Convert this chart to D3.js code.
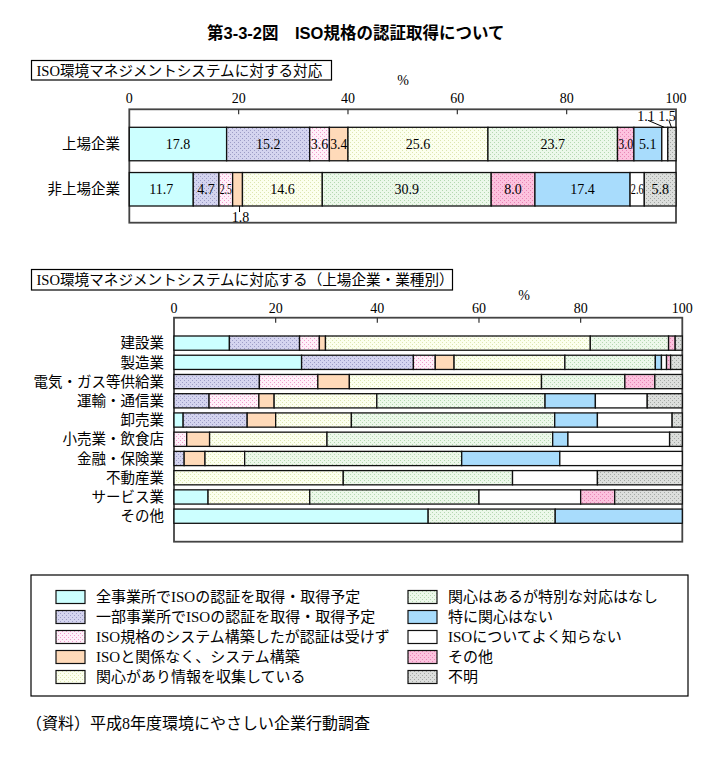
<!DOCTYPE html>
<html>
<head>
<meta charset="utf-8">
<script src="https://cdn.jsdelivr.net/npm/d3@7"></script>
<style>
  body { margin: 0; background: #fff; }
  svg { display: block; }
</style>
</head>
<body>
<svg id="chart" width="719" height="758"></svg>
<script>
// ---- data ----
var seriesNames = [
    '全事業所でISOの認証を取得・取得予定',
    '一部事業所でISOの認証を取得・取得予定',
    'ISO規格のシステム構築したが認証は受けず',
    'ISOと関係なく、システム構築',
    '関心があり情報を収集している',
    '関心はあるが特別な対応はなし',
    '特に関心はない',
    'ISOについてよく知らない',
    'その他',
    '不明'
];
// base colour, dot colour (null = flat)
var seriesFills = [
    ['#ccffff', null],
    ['#d4d4ef', '#9c9cc6'],
    ['#fff0f9', '#f09ccc'],
    ['#ffdab9', null],
    ['#fcffee', '#dde6b0'],
    ['#ecf8ea', '#b4d8b0'],
    ['#a8dcfc', null],
    ['#ffffff', null],
    ['#fcc2de', '#e886b6'],
    ['#dcdedc', '#a4a8a4']
];

// values follow the seriesNames order
var overallCats = ['上場企業', '非上場企業'];
var listedValues = [17.8, 15.2, 3.6, 3.4, 25.6, 23.7, 5.1, 1.1, 3.0, 1.5];
var unlistedValues = [11.7, 4.7, 2.5, 1.8, 14.6, 30.9, 17.4, 2.6, 8.0, 5.8];
// the upper chart stacks その他 straight after 関心はあるが…
var overallOrder = [0, 1, 2, 3, 4, 5, 8, 6, 7, 9];

var industryCats = ['建設業', '製造業', '電気・ガス等供給業', '運輸・通信業', '卸売業',
    '小売業・飲食店', '金融・保険業', '不動産業', 'サービス業', 'その他'];
var industryOrder = [0, 1, 2, 3, 4, 5, 6, 7, 8, 9];
var construction = [10.9, 13.8, 3.9, 1.2, 52.1, 15.4, 0, 0, 1.3, 1.4];
var manufacturing = [25.1, 22.0, 4.3, 3.7, 21.8, 17.8, 1.2, 1.0, 0.8, 2.3];
var utilities = [0, 16.8, 11.5, 6.2, 37.8, 16.4, 0, 0, 5.9, 5.4];
var transport = [0, 6.9, 9.8, 3.0, 20.2, 33.1, 9.9, 10.2, 0, 6.9];
var wholesale = [1.8, 12.6, 0, 5.6, 14.9, 40.0, 8.4, 14.7, 0, 2.0];
var retail = [0, 0, 2.5, 4.5, 23.1, 44.4, 3.0, 20.0, 0, 2.5];
var finance = [0, 2.0, 0, 4.1, 7.8, 42.7, 19.3, 24.1, 0, 0];
var realEstate = [0, 0, 0, 0, 33.3, 33.3, 0, 16.7, 0, 16.7];
var services = [6.7, 0, 0, 0, 20.0, 33.3, 0, 20.0, 6.7, 13.3];
var others = [50.0, 0, 0, 0, 0, 25.0, 25.0, 0, 0, 0];

var xTicks = [0, 20, 40, 60, 80, 100];

var titleText = '第3-3-2図　ISO規格の認証取得について';
var topHeading = 'ISO環境マネジメントシステムに対する対応';
var bottomHeading = 'ISO環境マネジメントシステムに対応する（上場企業・業種別）';
var sourceText = '（資料）平成8年度環境にやさしい企業行動調査';

// ---- drawing ----
var SERIF = '"Liberation Serif", "Noto Sans CJK JP", serif';
var GOTHIC = '"Liberation Sans", "Noto Sans CJK JP", sans-serif';

var svg = d3.select('#chart');
svg.append('rect').attr('width', 719).attr('height', 758).attr('fill', '#fff');

var defs = svg.append('defs');
seriesFills.forEach(function (f, i) {
    var p = defs.append('pattern')
        .attr('id', 'fill' + i)
        .attr('patternUnits', 'userSpaceOnUse')
        .attr('width', 4).attr('height', 4);
    p.append('rect').attr('width', 4).attr('height', 4).attr('fill', f[0]);
    if (f[1]) {
        p.append('rect').attr('x', 0).attr('y', 0).attr('width', 1).attr('height', 1).attr('fill', f[1]);
        p.append('rect').attr('x', 2).attr('y', 2).attr('width', 1).attr('height', 1).attr('fill', f[1]);
    }
});

svg.append('text')
    .attr('x', 207).attr('y', 39)
    .style('font-family', GOTHIC).style('font-weight', 'bold').style('font-size', '16.5px')
    .text(titleText);

function heading(x, y, w, h, txt) {
    svg.append('rect').attr('x', x).attr('y', y).attr('width', w).attr('height', h)
        .attr('fill', '#fff').attr('stroke', '#000').attr('stroke-width', 1.2);
    svg.append('text').attr('x', x + 5).attr('y', y + h / 2 + 5.5)
        .style('font-family', SERIF).style('font-size', '14.6px')
        .text(txt);
}
heading(31.5, 60.5, 300, 19.5, topHeading);
heading(31.5, 269.5, 421, 20.5, bottomHeading);

function fitText(sel, maxW) {
    sel.each(function () {
        var len = this.getComputedTextLength();
        if (len > maxW) {
            d3.select(this).attr('textLength', maxW).attr('lengthAdjust', 'spacingAndGlyphs');
        }
    });
}

function drawPanel(o) {
    var x = d3.scaleLinear().domain([0, 100]).range([o.left, o.right]);
    var y = d3.scaleBand().domain(o.cats).range([o.barTop, o.barBottom]).paddingInner(0.26);

    var table = o.cats.map(function (c, i) { return { cat: c, values: o.rows[i] }; });
    var stack = d3.stack()
        .keys(o.order)
        .value(function (d, k) { return d.values[k]; });
    var layers = stack(table);

    var g = svg.append('g');

    g.append('rect')
        .attr('x', o.left).attr('y', o.frameTop)
        .attr('width', o.right - o.left).attr('height', o.frameBottom - o.frameTop)
        .attr('fill', '#fff').attr('stroke', '#444').attr('stroke-width', 1.8);

    g.selectAll('.tick')
        .data(xTicks.slice(1, -1))
        .enter().append('line')
        .attr('x1', function (d) { return x(d); }).attr('x2', function (d) { return x(d); })
        .attr('y1', o.frameTop).attr('y2', o.frameTop + 5)
        .attr('stroke', '#333').attr('stroke-width', 1.2);

    g.selectAll('.tickLabel')
        .data(xTicks)
        .enter().append('text')
        .attr('x', function (d) { return x(d); })
        .attr('y', o.tickY)
        .attr('text-anchor', 'middle')
        .style('font-family', SERIF).style('font-size', '14px')
        .text(function (d) { return d; });

    g.append('text')
        .attr('x', o.pctX).attr('y', o.pctY)
        .attr('text-anchor', 'middle')
        .style('font-family', SERIF).style('font-size', '14px')
        .text('%');

    g.selectAll('.cat')
        .data(o.cats)
        .enter().append('text')
        .attr('x', o.catX)
        .attr('y', function (d) { return y(d) + y.bandwidth() / 2; })
        .attr('dy', '0.36em')
        .attr('text-anchor', 'end')
        .style('font-family', SERIF).style('font-size', '14.5px')
        .text(function (d) { return d; });

    var segs = [];
    layers.forEach(function (layer) {
        var k = layer.key;
        layer.forEach(function (d, i) {
            if (d[1] - d[0] <= 0) return;
            segs.push({ k: k, row: i, cat: d.data.cat, x0: x(d[0]), x1: x(d[1]), v: o.rows[i][k] });
        });
    });

    g.selectAll('.seg')
        .data(segs)
        .enter().append('rect')
        .attr('x', function (d) { return d.x0; })
        .attr('y', function (d) { return y(d.cat); })
        .attr('width', function (d) { return d.x1 - d.x0; })
        .attr('height', y.bandwidth())
        .attr('fill', function (d) { return 'url(#fill' + d.k + ')'; })
        .attr('stroke', '#111').attr('stroke-width', 1.3);

    if (!o.showValues) return;

    var inside = segs.filter(function (d) { return d.x1 - d.x0 >= 12; });
    var inLabels = g.selectAll('.val')
        .data(inside)
        .enter().append('text')
        .attr('x', function (d) { return (d.x0 + d.x1) / 2; })
        .attr('y', function (d) { return y(d.cat) + y.bandwidth() / 2 + 4.8; })
        .attr('text-anchor', 'middle')
        .style('font-family', SERIF).style('font-size', '14px')
        .text(function (d) { return d.v.toFixed(1); });
    inLabels.each(function (d) { fitText(d3.select(this), d.x1 - d.x0 - 1.5); });

    // small segments: labels above (first row) or below (second row)
    var outside = segs.filter(function (d) { return d.x1 - d.x0 < 12; });
    var above = outside.filter(function (d) { return d.row === 0; });
    var below = outside.filter(function (d) { return d.row !== 0; });

    var cx = null;
    above.slice().sort(function (a, b) { return b.x0 - a.x0; }).forEach(function (d) {
        var mid = (d.x0 + d.x1) / 2;
        cx = cx === null ? mid - 5 : cx - 21;
        var top = y(d.cat);
        g.append('text')
            .attr('x', cx).attr('y', top - 6)
            .attr('text-anchor', 'middle')
            .style('font-family', SERIF).style('font-size', '14px')
            .text(d.v.toFixed(1));
        g.append('line')
            .attr('x1', cx + 2).attr('y1', top - 7)
            .attr('x2', mid - 0.5).attr('y2', top)
            .attr('stroke', '#000').attr('stroke-width', 1);
    });

    below.forEach(function (d) {
        var mid = (d.x0 + d.x1) / 2 + 2;
        var bottom = y(d.cat) + y.bandwidth();
        g.append('line')
            .attr('x1', mid).attr('x2', mid)
            .attr('y1', bottom).attr('y2', bottom + 6)
            .attr('stroke', '#000').attr('stroke-width', 1);
        g.append('text')
            .attr('x', mid + 1).attr('y', bottom + 15.5)
            .attr('text-anchor', 'middle')
            .style('font-family', SERIF).style('font-size', '14px')
            .text(d.v.toFixed(1));
    });
}

drawPanel({
    cats: overallCats,
    rows: [listedValues, unlistedValues],
    order: overallOrder,
    left: 129.3, right: 676,
    frameTop: 109.3, frameBottom: 222.7,
    barTop: 127.3, barBottom: 206,
    tickY: 102.5, pctX: 403, pctY: 85,
    catX: 120,
    showValues: true
});

drawPanel({
    cats: industryCats,
    rows: [construction, manufacturing, utilities, transport, wholesale,
        retail, finance, realEstate, services, others],
    order: industryOrder,
    left: 174, right: 682.3,
    frameTop: 317.7, frameBottom: 541.7,
    barTop: 336, barBottom: 523.3,
    tickY: 313, pctX: 524, pctY: 300,
    catX: 164,
    showValues: false
});

// ---- legend ----
var legend = svg.append('g');
legend.append('rect')
    .attr('x', 31).attr('y', 575).attr('width', 657).attr('height', 121)
    .attr('fill', '#fff').attr('stroke', '#000').attr('stroke-width', 1.2);

var items = legend.selectAll('.item')
    .data(seriesNames)
    .enter().append('g')
    .attr('transform', function (d, i) {
        var col = i < 5 ? 0 : 1;
        var row = i % 5;
        return 'translate(' + (col ? 408 : 56) + ',' + (597 + row * 20) + ')';
    });
items.append('rect')
    .attr('x', 0).attr('y', -6.5).attr('width', 29).attr('height', 13)
    .attr('fill', function (d, i) { return 'url(#fill' + i + ')'; })
    .attr('stroke', '#111').attr('stroke-width', 1.2);
items.append('text')
    .attr('x', 40).attr('y', 0).attr('dy', '0.36em')
    .style('font-family', SERIF).style('font-size', '15px')
    .text(function (d) { return d; });

svg.append('text')
    .attr('x', 26).attr('y', 729)
    .style('font-family', SERIF).style('font-size', '16px')
    .text(sourceText);
</script>
</body>
</html>
